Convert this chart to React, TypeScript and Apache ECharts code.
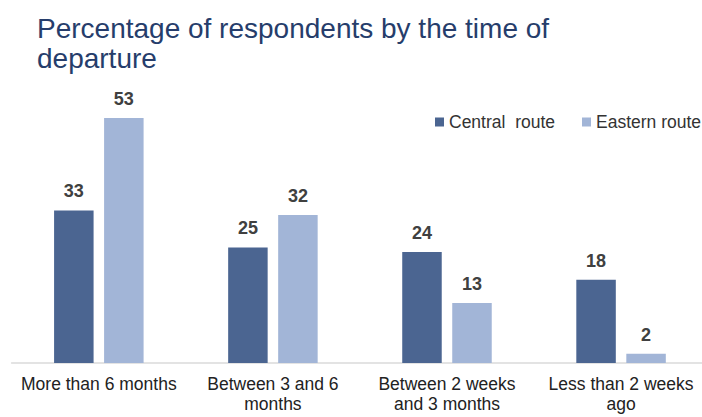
import React, { useEffect, useRef } from "react";
import * as echarts from "echarts";

const categories = [
  "More than 6 months",
  "Between 3 and 6\nmonths",
  "Between 2 weeks\nand 3 months",
  "Less than 2 weeks\nago",
];
const centralRoute = [33, 25, 24, 18];
const easternRoute = [53, 32, 13, 2];
const seriesNames = ["Central  route", "Eastern route"];

export default function App() {
  const ref = useRef<HTMLDivElement>(null);
  useEffect(() => {
    if (!ref.current) return;
    const chart = echarts.init(ref.current, null, { renderer: "svg" });
    const labelStyle = {
      show: true,
      position: "top" as const,
      distance: 10,
      color: "#404040",
      fontSize: 18,
      fontWeight: "bold" as const,
      fontFamily: "Liberation Sans, Arial, sans-serif",
    };
    chart.setOption({
      animation: false,
      backgroundColor: "#ffffff",
      title: {
        text: "Percentage of respondents by the time of\ndeparture",
        left: 32,
        top: 8,
        textStyle: {
          color: "#263d6b",
          fontSize: 28,
          fontWeight: "normal",
          lineHeight: 30,
          fontFamily: "Liberation Sans, Arial, sans-serif",
        },
      },
      legend: {
        left: 430,
        top: 108,
        width: 400,
        itemWidth: 9,
        itemHeight: 9,
        itemGap: 27,
        icon: "rect",
        textStyle: {
          color: "#333333",
          fontSize: 17.5,
          fontFamily: "Liberation Sans, Arial, sans-serif",
        },
        data: seriesNames,
      },
      grid: { left: 11.8, width: 696.3, top: 85.7, bottom: 54 },
      xAxis: {
        type: "category",
        data: categories,
        axisLine: { lineStyle: { color: "#e3e3e3", width: 2 } },
        axisTick: { show: false },
        axisLabel: {
          margin: 11,
          color: "#222222",
          fontSize: 17.5,
          lineHeight: 20,
          fontFamily: "Liberation Sans, Arial, sans-serif",
          interval: 0,
        },
      },
      yAxis: {
        type: "value",
        min: 0,
        max: 60,
        show: false,
        splitLine: { show: false },
      },
      series: [
        {
          name: seriesNames[0],
          type: "bar",
          data: centralRoute,
          barWidth: 39.5,
          barGap: "26.6%",
          itemStyle: { color: "#4b6591" },
          label: labelStyle,
        },
        {
          name: seriesNames[1],
          type: "bar",
          data: easternRoute,
          barWidth: 39.5,
          barGap: "26.6%",
          itemStyle: { color: "#a2b5d7" },
          label: labelStyle,
        },
      ],
    });
    return () => chart.dispose();
  }, []);
  return (
    <div
      style={{
        position: "absolute",
        left: 0,
        top: 0,
        width: 702,
        height: 417,
        overflow: "hidden",
      }}
    >
      <div ref={ref} style={{ width: 760, height: 417 }} />
    </div>
  );
}
